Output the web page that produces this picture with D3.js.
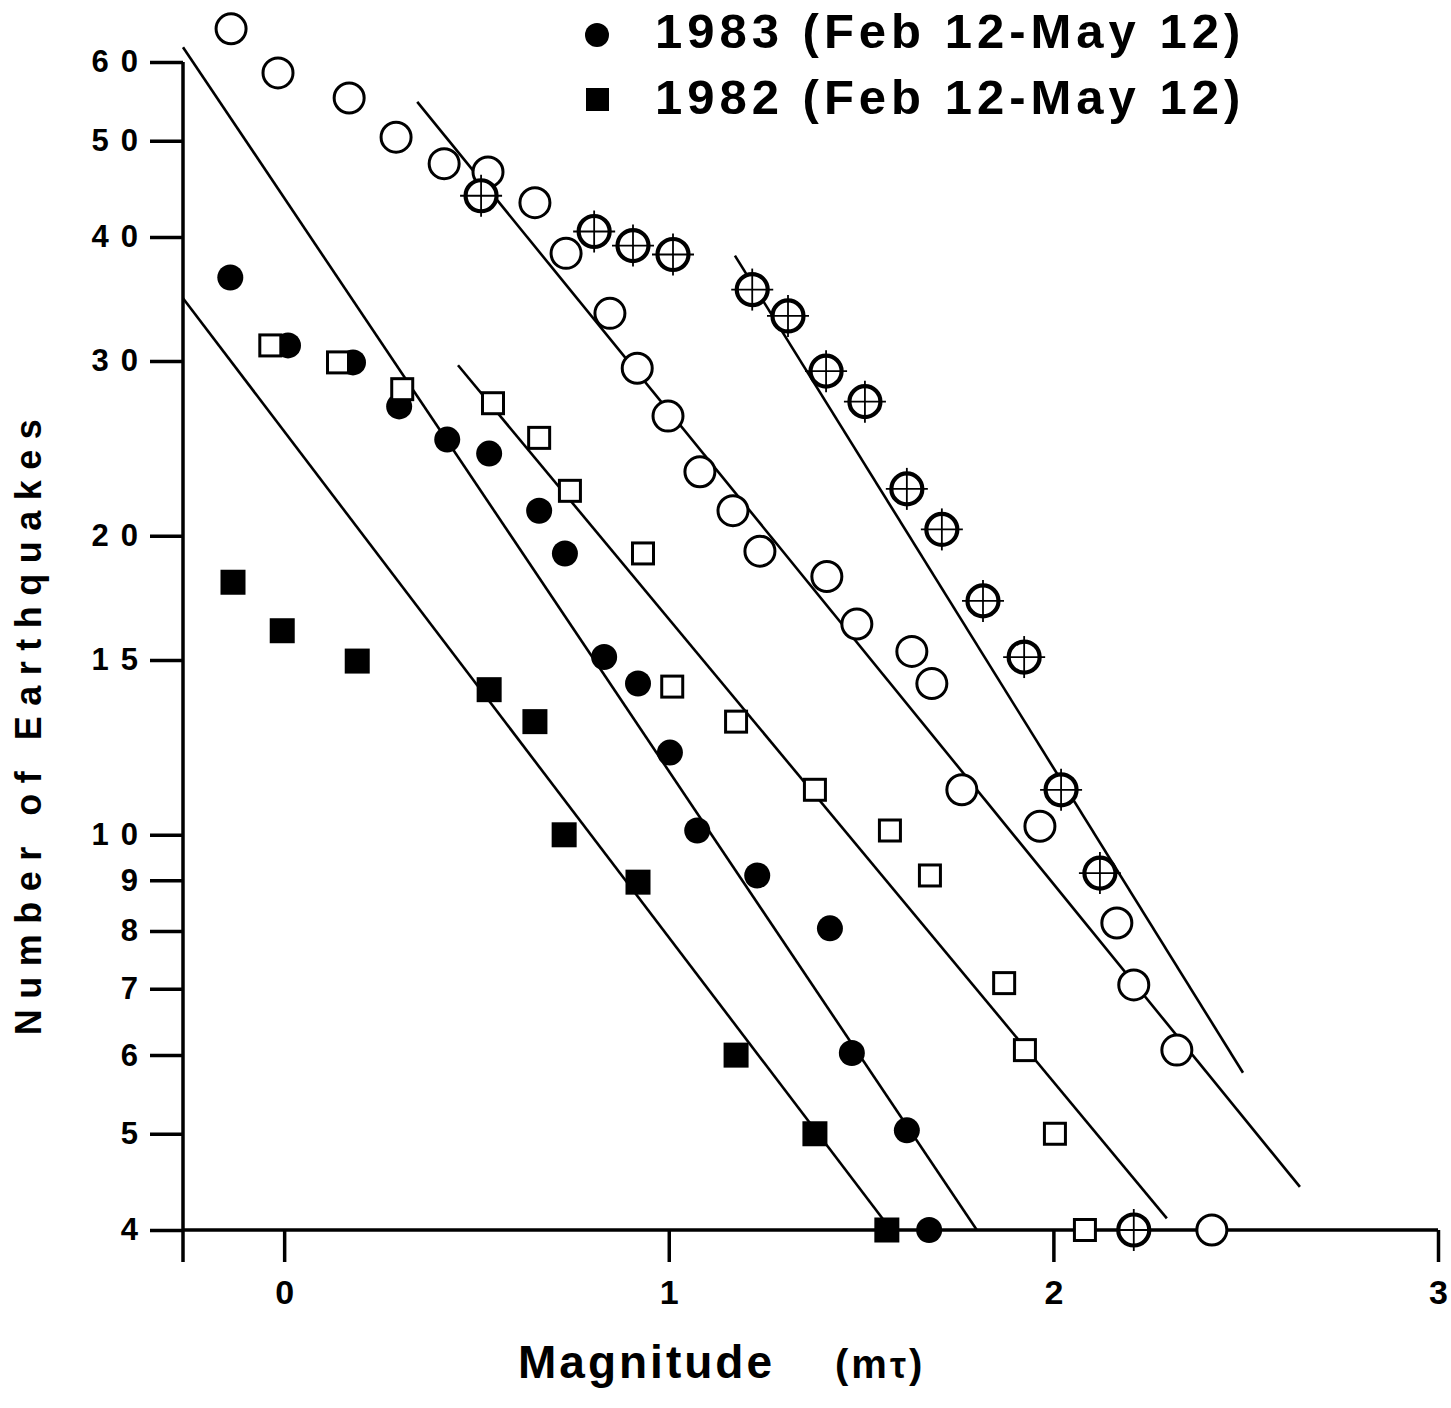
<!DOCTYPE html>
<html>
<head>
<meta charset="utf-8">
<script src="https://cdn.jsdelivr.net/npm/d3@7/dist/d3.min.js"></script>
<style>
  html, body { margin: 0; padding: 0; background: #fff; }
  svg { display: block; }
  text { font-family: "Liberation Sans", Arial, Helvetica, sans-serif; fill: #000; }
</style>
</head>
<body>
<svg id="chart" width="1451" height="1408"></svg>
<script>
// ---- data (magnitude, number of earthquakes) ----
const openCircles = [[-0.138,64.8],[-0.016,58.5],[0.169,55.2],[0.291,50.4],[0.416,47.4],[0.530,46.5],[0.652,43.3],[0.733,38.5],[0.847,33.5],[0.918,29.5],[0.998,26.4],[1.081,23.2],[1.167,21.2],[1.237,19.3],[1.411,18.2],[1.489,16.3],[1.632,15.3],[1.684,14.2],[1.762,11.1],[1.965,10.2],[2.165,8.15],[2.209,7.06],[2.321,6.07],[2.412,4.0]];
const crossCircles = [[0.512,44.0],[0.806,40.5],[0.907,39.2],[1.011,38.4],[1.217,35.4],[1.310,33.3],[1.409,29.3],[1.510,27.3],[1.619,22.3],[1.710,20.3],[1.817,17.2],[1.924,15.1],[2.020,11.1],[2.121,9.15],[2.209,4.0]];
const openSquares = [[-0.036,31.1],[0.140,29.9],[0.307,28.1],[0.543,27.2],[0.663,25.1],[0.743,22.2],[0.933,19.2],[1.009,14.1],[1.175,13.0],[1.380,11.1],[1.575,10.1],[1.679,9.1],[1.872,7.09],[1.926,6.07],[2.004,5.0],[2.082,4.0]];
const filledCircles1983 = [[-0.140,36.4],[0.010,31.1],[0.179,29.9],[0.299,27.0],[0.424,25.0],[0.533,24.2],[0.663,21.2],[0.730,19.2],[0.832,15.1],[0.920,14.2],[1.003,12.1],[1.074,10.1],[1.230,9.1],[1.419,8.05],[1.476,6.03],[1.619,5.04],[1.677,4.0]];
const filledSquares1982 = [[-0.133,17.96],[-0.005,16.05],[0.190,14.96],[0.533,14.0],[0.652,13.0],[0.728,10.0],[0.920,8.96],[1.175,6.0],[1.380,5.0],[1.567,4.0]];
// fitted lines: endpoints [magnitude, count]
const fitLines = [
  [[-0.263,62.1],[1.801,4.0]],
  [[-0.263,34.7],[1.570,4.04]],
  [[0.452,29.7],[2.295,4.11]],
  [[0.346,54.7],[2.641,4.42]],
  [[1.172,38.3],[2.493,5.76]]
];
const yTicks = [4,5,6,7,8,9,10,15,20,30,40,50,60];
const xTicks = [0,1,2,3];
const legendLabels = ["1983 (Feb 12-May 12)", "1982 (Feb 12-May 12)"];

// ---- scales ----
const x = d3.scaleLinear().domain([-0.263, 3]).range([183, 1438]);
const y = d3.scaleLog().domain([4, 60]).range([1230, 62]);

const svg = d3.select("#chart");
svg.append("rect").attr("width",1451).attr("height",1408).attr("fill","#fff");

// ---- axes ----
const yAxis = svg.append("g").attr("transform","translate(183,0)")
  .call(d3.axisLeft(y).tickValues(yTicks).tickFormat(d3.format("d")).tickSize(33).tickPadding(12));
yAxis.select(".domain").remove();
yAxis.selectAll(".tick line").attr("stroke","#000").attr("stroke-width",3.5);
yAxis.selectAll(".tick text")
  .attr("font-size",31).attr("font-weight","bold")
  .attr("letter-spacing", d => d >= 10 ? 12 : 0)
  .attr("dx", d => d >= 10 ? 12 : 0)
  .attr("font-family","'Liberation Sans', Arial, sans-serif");

const xAxis = svg.append("g").attr("transform","translate(0,"+y(4)+")")
  .call(d3.axisBottom(x).tickValues(xTicks).tickFormat(d3.format("d")).tickSize(32).tickPadding(18));
xAxis.select(".domain").remove();
xAxis.selectAll(".tick line").attr("stroke","#000").attr("stroke-width",3.5);
xAxis.selectAll(".tick text").attr("font-size",34).attr("font-weight","bold")
  .attr("font-family","'Liberation Sans Narrow', 'Liberation Sans', Arial, sans-serif");

// axis lines
svg.append("line").attr("x1",x(-0.263)).attr("x2",x(3)).attr("y1",y(4)).attr("y2",y(4))
  .attr("stroke","#000").attr("stroke-width",3.5);
svg.append("line").attr("x1",x(-0.263)).attr("x2",x(-0.263)).attr("y1",y(60)).attr("y2",y(4)+32)
  .attr("stroke","#000").attr("stroke-width",3.5);

// ---- fit lines ----
svg.append("g").selectAll("line").data(fitLines).join("line")
  .attr("x1",d=>x(d[0][0])).attr("y1",d=>y(d[0][1]))
  .attr("x2",d=>x(d[1][0])).attr("y2",d=>y(d[1][1]))
  .attr("stroke","#000").attr("stroke-width",2.6);

// ---- markers ----
svg.append("g").selectAll("circle").data(filledCircles1983).join("circle")
  .attr("cx",d=>x(d[0])).attr("cy",d=>y(d[1])).attr("r",13).attr("fill","#000");

svg.append("g").selectAll("rect").data(filledSquares1982).join("rect")
  .attr("x",d=>x(d[0])-12.5).attr("y",d=>y(d[1])-12.5).attr("width",25).attr("height",25).attr("fill","#000");

svg.append("g").selectAll("rect").data(openSquares).join("rect")
  .attr("x",d=>x(d[0])-10.5).attr("y",d=>y(d[1])-10.5).attr("width",21).attr("height",21)
  .attr("fill","#fff").attr("stroke","#000").attr("stroke-width",3);

svg.append("g").selectAll("circle").data(openCircles).join("circle")
  .attr("cx",d=>x(d[0])).attr("cy",d=>y(d[1])).attr("r",15)
  .attr("fill","#fff").attr("stroke","#000").attr("stroke-width",3);

const cc = svg.append("g").selectAll("g").data(crossCircles).join("g")
  .attr("transform",d=>"translate("+x(d[0])+","+y(d[1])+")");
cc.append("circle").attr("r",15.5).attr("fill","#fff").attr("stroke","#000").attr("stroke-width",4.2);
cc.append("line").attr("x1",-21).attr("x2",21).attr("stroke","#000").attr("stroke-width",1.8);
cc.append("line").attr("y1",-21).attr("y2",21).attr("stroke","#000").attr("stroke-width",1.8);

// ---- legend ----
const leg = svg.append("g");
leg.append("circle").attr("cx",597).attr("cy",35).attr("r",12).attr("fill","#000");
leg.append("rect").attr("x",586).attr("y",88).attr("width",23).attr("height",23).attr("fill","#000");
leg.selectAll("text").data(legendLabels).join("text")
  .attr("x",655).attr("y",(d,i)=>48+i*66)
  .attr("font-size",49).attr("font-weight","bold").attr("letter-spacing",5)
  .text(d=>d);

// ---- axis titles ----
const xt = svg.append("text").attr("x",518).attr("y",1378).attr("font-weight","bold");
xt.append("tspan").attr("font-size",46).attr("letter-spacing",3).text("Magnitude");
xt.append("tspan").attr("x",835).attr("font-size",40).attr("letter-spacing",3).text("(m");
xt.append("tspan").attr("font-size",36).attr("letter-spacing",3).text("τ");
xt.append("tspan").attr("font-size",40).text(")");

svg.append("text")
  .attr("transform","translate(41,722) rotate(-90)")
  .attr("text-anchor","middle")
  .attr("font-size",36).attr("font-weight","bold").attr("letter-spacing",10.5)
  .text("Number of Earthquakes");
</script>
</body>
</html>
